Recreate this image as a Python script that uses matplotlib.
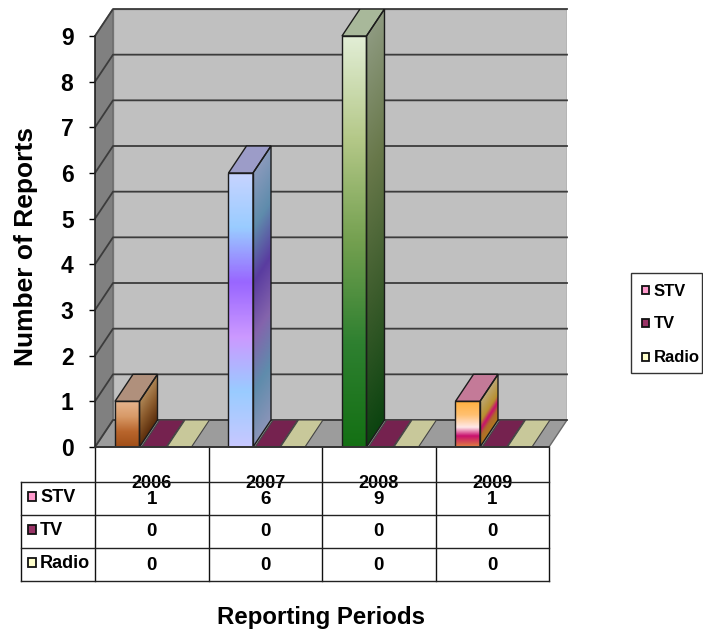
import matplotlib
matplotlib.use("Agg")
import matplotlib.pyplot as plt
import numpy as np
from matplotlib.colors import LinearSegmentedColormap
from matplotlib.patches import Polygon, Rectangle

plt.rcParams['font.family'] = ['Liberation Sans', 'DejaVu Sans']
plt.rcParams['font.weight'] = 'bold'

# Report counts per year
years = ["2006", "2007", "2008", "2009"]
series_names = ["STV", "TV", "Radio"]
stv = [1, 6, 9, 1]
tv = [0, 0, 0, 0]
radio = [0, 0, 0, 0]

# Fill styles for the STV columns, one gradient per year (top to bottom)
front_stops = [
    ["#E6B48E", "#D89A68", "#B8652C", "#A04E18"],
    ["#C8D4FF", "#99CCFF", "#9966FF", "#CC99FF", "#99CCFF", "#C8C8FF"],
    ["#E2EED6", "#B4C888", "#74A050", "#2E8030", "#147014"],
    [(0, "#FFB040"), (0.3, "#FFC070"), (0.57, "#FFE8E8"), (0.76, "#C8106E"), (1, "#E08040")],
]
side_stops = [
    ["#B08858", "#8A5A2C", "#5C2E0C"],
    ["#8A9ABC", "#5F8CAC", "#5A3CA0", "#8464AC", "#5F8CAC", "#8A94B8"],
    ["#8E9A80", "#68784A", "#3C5C2C", "#0C4410"],
    [(0, "#BDA878"), (0.45, "#B8902E"), (0.62, "#C8106E"), (0.78, "#B06A2C"), (1, "#B07820")],
]
top_colors = ["#B0907C", "#9C9CC8", "#A8B89A", "#C47A98"]
tv_color = "#75224F"
radio_color = "#C8C89A"
key_colors = ["#FF99CC", "#993366", "#FFFFCC"]

# Oblique depth of the chart box, in category and value units
depth_x = 18 / 113.5
depth_y = 27 / 45.67
bar_w = 0.216
edge = "#1c1c1c"

W, H = 703, 633
fig = plt.figure(figsize=(W / 100, H / 100), dpi=100, facecolor="white")
ax = fig.add_axes([95 / W, 1 - 447 / H, 472 / W, 438 / H])
ax.patch.set_visible(False)
n = len(years)
y_max = 9
ax.set_xlim(0, n + depth_x)
ax.set_ylim(0, y_max + depth_y)

# Walls and floor
ax.add_patch(Polygon([(depth_x, depth_y), (n + depth_x, depth_y),
                      (n + depth_x, y_max + depth_y), (depth_x, y_max + depth_y)],
                     fc="#C0C0C0", ec="#8c8c8c", lw=1, zorder=1))
ax.add_patch(Polygon([(0, 0), (depth_x, depth_y), (depth_x, y_max + depth_y), (0, y_max)],
                     fc="#808080", ec="#6a6a6a", lw=1, zorder=1))
ax.add_patch(Polygon([(0, 0), (depth_x, depth_y), (n + depth_x, depth_y), (n, 0)],
                     fc="#9C9C9C", ec="#6a6a6a", lw=1, zorder=1))

# Gridlines run along the back wall and down the left wall
for v in range(0, y_max + 1):
    ax.plot([0, depth_x, n + depth_x], [v, v + depth_y, v + depth_y],
            color="#3c3c3c", lw=1.3, zorder=2, clip_on=False)


def gradient_image(stops, x0, x1, v, rise, clip, z):
    # rise shifts the gradient upward across the width, following the side face
    cmap = LinearSegmentedColormap.from_list("bar", stops)
    y = np.linspace(v + rise, 0, 300)[:, None]
    cols = np.linspace(0, 1, 40)[None, :]
    t = np.clip(1 - (y - rise * cols) / v, 0, 1)
    im = ax.imshow(t, cmap=cmap, vmin=0, vmax=1, extent=(x0, x1, 0, v + rise),
                   aspect="auto", origin="upper", zorder=z, interpolation="bilinear")
    patch = Polygon(clip, transform=ax.transData, fc="none", ec="none")
    ax.add_patch(patch)
    im.set_clip_path(patch)


def flat_bar(x, color):
    ax.add_patch(Polygon([(x, 0), (x + bar_w, 0), (x + bar_w + depth_x, depth_y), (x + depth_x, depth_y)],
                         fc=color, ec="#444444", lw=0.8, zorder=3))


for i in range(n):
    # zero-height TV and Radio columns lie flat on the floor
    if tv[i] == 0:
        flat_bar(i + 0.411, tv_color)
    if radio[i] == 0:
        flat_bar(i + 0.634, radio_color)

    x0 = i + 0.176
    x1 = x0 + bar_w
    v = stv[i]
    gradient_image(front_stops[i], x0, x1, v, 0,
                   [(x0, 0), (x1, 0), (x1, v), (x0, v)], 5)
    gradient_image(side_stops[i], x1, x1 + depth_x, v, depth_y,
                   [(x1, 0), (x1 + depth_x, depth_y), (x1 + depth_x, v + depth_y), (x1, v)], 4)
    ax.add_patch(Polygon([(x0, v), (x1, v), (x1 + depth_x, v + depth_y), (x0 + depth_x, v + depth_y)],
                         fc=top_colors[i], ec=edge, lw=1, zorder=6))
    ax.add_patch(Polygon([(x1, 0), (x1 + depth_x, depth_y), (x1 + depth_x, v + depth_y), (x1, v)],
                         fc="none", ec=edge, lw=1, zorder=6))
    ax.add_patch(Rectangle((x0, 0), bar_w, v, fc="none", ec=edge, lw=1, zorder=7))

ax.set_xlim(0, n + depth_x)
ax.set_ylim(0, y_max + depth_y)

# Axes
for side in ["top", "right", "bottom"]:
    ax.spines[side].set_visible(False)
ax.spines["left"].set_bounds(0, y_max)
ax.spines["left"].set_color("#222222")
ax.spines["left"].set_linewidth(1.2)
ax.set_yticks(range(0, y_max + 1))
ax.tick_params(axis="y", length=4.5, width=1, pad=11, labelsize=16.5)
ax.set_xticks([i + 0.5 for i in range(n)], years)
ax.tick_params(axis="x", length=0, pad=20, labelsize=13)
ax.set_ylabel("Number of Reports", fontsize=19, fontweight="bold")
ax.yaxis.set_label_coords((38 - 95) / 472, (447 - 247) / 438)
ax.set_xlabel("Reporting Periods", fontsize=17.3, fontweight="bold")
ax.xaxis.set_label_coords((321 - 95) / 472, (447 - 606) / 438)

# Data table and legend box sit on a full-figure overlay in pixel units
ov = fig.add_axes([0, 0, 1, 1], zorder=5)
ov.set_xlim(0, W)
ov.set_ylim(H, 0)
ov.axis("off")

col_x = [95, 208.5, 322, 435.5, 549]
row_y = [482, 515, 548, 581]
for x in col_x:
    ov.plot([x, x], [447, 581], color="#111111", lw=1)
ov.plot([21, 21], [482, 581], color="#111111", lw=1)
for y in row_y:
    ov.plot([21, 549], [y, y], color="#222222", lw=1)
ov.plot([95, 549], [447, 447], color="#333333", lw=1.4)

rows = [stv, tv, radio]
row_mid = [498, 531, 564]
key_mid = [496, 529, 562]
for name, vals, color, ym, yk in zip(series_names, rows, key_colors, row_mid, key_mid):
    ov.add_patch(Rectangle((27.5, yk - 4.5), 8, 9, fc=color, ec="#111111", lw=1.3))
    ov.text(40, yk + 1.5, name, fontsize=13, va="center", ha="left")
    for j, val in enumerate(vals):
        ov.text((col_x[j] + col_x[j + 1]) / 2, ym + 1, str(val), fontsize=13.5, va="center", ha="center")

ov.add_patch(Rectangle((631, 273), 71, 100, fc="white", ec="#333333", lw=1))
for name, color, ym in zip(series_names, key_colors, [290, 323, 357]):
    ov.add_patch(Rectangle((642, ym - 4), 7, 8, fc=color, ec="#111111", lw=1.3))
    ov.text(654, ym + 1, name, fontsize=12, va="center", ha="left")

fig.savefig("out.png", dpi=100)
